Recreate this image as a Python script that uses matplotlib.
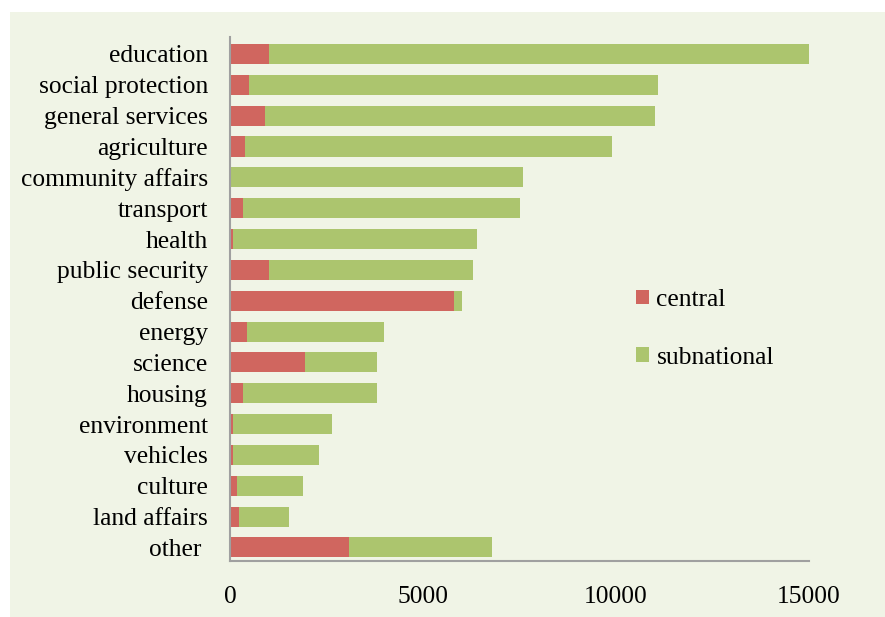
import matplotlib.pyplot as plt
from matplotlib.patches import Rectangle

categories = ["education", "social protection", "general services", "agriculture",
              "community affairs", "transport", "health", "public security",
              "defense", "energy", "science", "housing", "environment",
              "vehicles", "culture", "land affairs", "other "]
central = [1000, 480, 900, 400, 30, 330, 70, 1000,
           5800, 450, 1950, 330, 70, 70, 180, 230, 3080]
total = [15000, 11100, 11000, 9900, 7600, 7500, 6400, 6300,
         6000, 4000, 3800, 3800, 2650, 2300, 1880, 1520, 6800]
subnational = [t - c for t, c in zip(total, central)]

red = "#D0665F"
green = "#ACC56E"
bg = "#F0F4E6"

plt.rcParams["font.family"] = ["Liberation Serif", "DejaVu Serif"]

fig = plt.figure(figsize=(8.85, 6.17), dpi=100, facecolor="white")
fig.patches.append(Rectangle((10 / 885, 0), 1, 605 / 617, transform=fig.transFigure,
                             facecolor=bg, edgecolor="none", zorder=-1))
ax = fig.add_axes([230 / 885, 1 - 561 / 617, 579 / 885, 524 / 617])
ax.set_facecolor(bg)

y = list(range(len(categories)))
ax.barh(y, central, height=0.65, color=red, label="central")
ax.barh(y, subnational, left=central, height=0.65, color=green, label="subnational")

ax.set_xlim(0, 15000)
ax.set_ylim(16.44, -0.55)
ax.set_xticks([0, 5000, 10000, 15000])
ax.set_yticks(y)
ax.set_yticklabels(categories)
ax.tick_params(axis="y", length=0, pad=16, labelsize=18.4)
ax.tick_params(axis="x", length=0, pad=18, labelsize=18.4)

for side in ("top", "right"):
    ax.spines[side].set_visible(False)
for side in ("left", "bottom"):
    ax.spines[side].set_color("#A0A0A0")
    ax.spines[side].set_linewidth(1.5)

ax.legend(loc="upper left", bbox_to_anchor=(636 / 885, 1 - 289 / 617),
          bbox_transform=fig.transFigure, frameon=False, fontsize=18.4,
          handlelength=0.5, handleheight=0.5, handletextpad=0.3,
          labelspacing=1.4, borderpad=0, borderaxespad=0)

fig.savefig("out.png", dpi=100, facecolor=fig.get_facecolor())
